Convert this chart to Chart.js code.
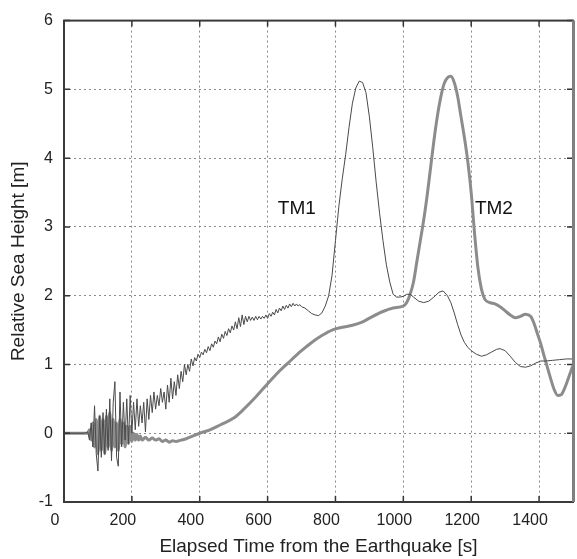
<!DOCTYPE html>
<html>
<head>
<meta charset="utf-8">
<script src="https://cdn.jsdelivr.net/npm/chart.js@4.4.1/dist/chart.umd.min.js"></script>
<style>
  html, body { margin: 0; padding: 0; background: #fff; }
  #wrap { width: 577px; height: 559px; position: relative; }
</style>
</head>
<body>
<div id="wrap"><canvas id="seaChart"></canvas></div>
<script>
// tick values
const xTicks = [0, 200, 400, 600, 800, 1000, 1200, 1400];
const yTicks = [-1, 0, 1, 2, 3, 4, 5, 6];

// TM1 (thin line) - time [s] and height [m]
const timeTM1 = [
    0, 60, 70, 75, 80, 85, 90, 95, 100, 105, 110, 115, 120, 125, 130, 135, 140, 145, 150, 155,
    160, 165, 170, 175, 180, 185, 190, 195, 200, 205, 210, 215, 220, 225, 230, 235, 240, 245, 250, 255,
    260, 265, 270, 275, 280, 285, 290, 295, 300, 305, 310, 315, 320, 325, 330, 335, 340, 345, 350, 355,
    360, 365, 370, 375, 380, 385, 390, 395, 400, 405, 410, 415, 420, 425, 430, 435, 440, 445, 450, 455,
    460, 465, 470, 475, 480, 485, 490, 495, 500, 505, 510, 515, 520, 525, 530, 535, 540, 545, 550, 555,
    560, 565, 570, 575, 580, 585, 590, 595, 600, 605, 610, 615, 620, 625, 630, 635, 640, 645, 650, 655,
    660, 665, 670, 675, 680, 685, 690, 695, 700, 710, 720, 730, 740, 750, 760, 770, 780, 790, 800, 810,
    820, 830, 840, 850, 860, 870, 880, 890, 900, 910, 920, 930, 940, 950, 960, 970, 980, 990, 1000, 1010,
    1020, 1030, 1045, 1060, 1075, 1090, 1105, 1117, 1130, 1140, 1150, 1160, 1170, 1180, 1190, 1200, 1215, 1230, 1245, 1260,
    1275, 1285, 1300, 1315, 1330, 1345, 1360, 1375, 1390, 1405, 1420, 1440, 1460, 1480, 1500
];
const heightTM1 = [
    0, 0, 0.02, -0.1, 0.15, -0.2, 0.4, -0.3, -0.55, 0.25, -0.35, 0.3, -0.3, 0.35, -0.25, 0.5, -0.4, 0.45, 0.75, -0.35,
    -0.48, 0.6, -0.2, 0.45, -0.1, 0.5, -0.15, 0.55, 0.0, 0.45, 0.05, 0.5, 0.1, 0.4, 0.15, 0.45, 0.02, 0.5, 0.2, 0.55,
    0.3, 0.6, 0.35, 0.55, 0.4, 0.65, 0.45, 0.6, 0.35, 0.7, 0.45, 0.8, 0.5, 0.75, 0.55, 0.85, 0.65, 0.9, 0.75, 1.0,
    0.85, 1.0, 0.9, 1.08, 0.98, 1.1, 1.05, 1.15, 1.1, 1.18, 1.14, 1.22, 1.17, 1.26, 1.2, 1.3, 1.25, 1.34, 1.3, 1.4,
    1.33, 1.44, 1.38, 1.48, 1.42, 1.52, 1.46, 1.56, 1.5, 1.62, 1.52, 1.68, 1.55, 1.72, 1.58, 1.7, 1.62, 1.7, 1.64, 1.69,
    1.64, 1.7, 1.65, 1.7, 1.66, 1.7, 1.67, 1.72, 1.67, 1.74, 1.7, 1.76, 1.72, 1.8, 1.75, 1.82, 1.78, 1.85, 1.8, 1.86,
    1.82, 1.88, 1.84, 1.89, 1.85, 1.88, 1.85, 1.87, 1.84, 1.82, 1.78, 1.74, 1.72, 1.71, 1.75, 1.85, 2.0, 2.3, 2.8, 3.3,
    3.7, 4.05, 4.45, 4.8, 5.02, 5.12, 5.1, 4.95, 4.6, 4.15, 3.65, 3.2, 2.8, 2.45, 2.2, 2.02, 1.98, 1.98, 1.99, 2.02,
    2.02, 1.98, 1.92, 1.9, 1.92, 1.98, 2.05, 2.07, 2.0, 1.9, 1.75, 1.58, 1.43, 1.32, 1.25, 1.2, 1.15, 1.12, 1.14, 1.18,
    1.22, 1.23, 1.2, 1.12, 1.03, 0.97, 0.96, 0.98, 1.02, 1.05, 1.05, 1.06, 1.07, 1.08, 1.08
];

// TM2 (thick gray line)
const timeTM2 = [
    0, 70, 75, 80, 85, 90, 95, 100, 105, 110, 115, 120, 125, 130, 135, 140, 145, 150, 155, 160,
    165, 170, 175, 180, 185, 190, 195, 200, 205, 210, 215, 220, 225, 230, 240, 250, 260, 270, 280, 290,
    300, 310, 320, 330, 345, 360, 380, 400, 430, 460, 500, 530, 560, 600, 630, 660, 700, 730, 760, 790,
    820, 850, 880, 910, 940, 970, 1000, 1010, 1020, 1030, 1040, 1050, 1060, 1070, 1080, 1090, 1100, 1110, 1120, 1130,
    1140, 1150, 1160, 1170, 1180, 1190, 1200, 1210, 1220, 1230, 1240, 1255, 1270, 1285, 1300, 1315, 1330, 1345, 1360, 1375,
    1385, 1395, 1405, 1415, 1425, 1435, 1445, 1455, 1465, 1475, 1485, 1495, 1500
];
const heightTM2 = [
    0, 0, 0.05, -0.1, 0.15, -0.2, 0.2, -0.3, 0.25, -0.25, 0.2, -0.3, 0.25, -0.2, 0.3, -0.25, 0.2, -0.2, 0.15, -0.25,
    0.2, -0.15, 0.15, -0.2, 0.1, -0.15, 0.1, -0.12, 0.0, -0.1, -0.02, -0.1, -0.04, -0.1, -0.06, -0.1, -0.07, -0.1, -0.08, -0.12,
    -0.1, -0.13, -0.11, -0.12, -0.1, -0.08, -0.04, 0.0, 0.05, 0.12, 0.22, 0.35, 0.5, 0.72, 0.88, 1.02, 1.2, 1.32, 1.42, 1.5,
    1.54, 1.57, 1.62, 1.7, 1.77, 1.82, 1.85, 1.9, 2.02, 2.2, 2.5, 2.8, 3.1, 3.45, 3.85, 4.25, 4.6, 4.88, 5.08, 5.17,
    5.19, 5.1, 4.9, 4.6, 4.3, 3.95, 3.5, 2.9, 2.4, 2.1, 1.95, 1.9, 1.88, 1.84, 1.78, 1.72, 1.68, 1.7, 1.73, 1.7,
    1.6, 1.45, 1.3, 1.12, 0.95, 0.78, 0.63, 0.55, 0.56, 0.65, 0.78, 0.92, 0.98
];

// curve labels, placed in data coordinates
const curveLabels = [
    { text: 'TM1', x: 630, y: 3.27 },
    { text: 'TM2', x: 1211, y: 3.27 }
];

const toPoints = (xs, ys) => xs.map((x, i) => ({ x: x, y: ys[i] }));

const FONT = '"Liberation Sans", Arial, Helvetica, sans-serif';

// frame, inner ticks and curve labels
const framePlugin = {
    id: 'frame',
    afterDatasetsDraw(chart) {
        const { ctx, chartArea: a, scales } = chart;
        ctx.save();
        // inward tick marks on all four sides
        ctx.strokeStyle = '#333';
        ctx.lineWidth = 1.5;
        ctx.beginPath();
        xTicks.forEach(v => {
            const px = scales.x.getPixelForValue(v);
            ctx.moveTo(px, a.bottom); ctx.lineTo(px, a.bottom - 6);
            ctx.moveTo(px, a.top); ctx.lineTo(px, a.top + 6);
        });
        yTicks.forEach(v => {
            const py = scales.y.getPixelForValue(v);
            ctx.moveTo(a.left, py); ctx.lineTo(a.left + 6, py);
            ctx.moveTo(a.right, py); ctx.lineTo(a.right - 6, py);
        });
        ctx.stroke();
        // frame
        ctx.strokeStyle = '#3a3a3a';
        ctx.lineWidth = 2;
        ctx.strokeRect(a.left, a.top, a.right - a.left, a.bottom - a.top);
        ctx.strokeStyle = '#808080';
        ctx.lineWidth = 3;
        ctx.beginPath();
        ctx.moveTo(a.right + 0.5, a.top);
        ctx.lineTo(a.right + 0.5, a.bottom);
        ctx.stroke();
        // labels
        ctx.fillStyle = '#111';
        ctx.font = '19px ' + FONT;
        ctx.textAlign = 'left';
        ctx.textBaseline = 'middle';
        curveLabels.forEach(l => {
            ctx.fillText(l.text, scales.x.getPixelForValue(l.x), scales.y.getPixelForValue(l.y));
        });
        ctx.restore();
    }
};

const ctx = document.getElementById('seaChart');
new Chart(ctx, {
    type: 'line',
    data: {
        datasets: [
            {
                label: 'TM1',
                data: toPoints(timeTM1, heightTM1),
                borderColor: '#4a4a4a',
                borderWidth: 1,
                pointRadius: 0,
                tension: 0,
                order: 1
            },
            {
                label: 'TM2',
                data: toPoints(timeTM2, heightTM2),
                borderColor: '#8c8c8c',
                borderWidth: 3,
                pointRadius: 0,
                cubicInterpolationMode: 'monotone',
                order: 2
            }
        ]
    },
    options: {
        responsive: true,
        maintainAspectRatio: false,
        animation: false,
        layout: { padding: { top: 15, right: 4, left: 0, bottom: 0 } },
        plugins: {
            legend: { display: false },
            tooltip: { enabled: false }
        },
        scales: {
            x: {
                type: 'linear',
                min: 0,
                max: 1500,
                afterBuildTicks: (axis) => { axis.ticks = xTicks.map(v => ({ value: v })); },
                afterFit: (axis) => { axis.height = 57; },
                grid: {
                    color: (c) => (c.tick && (c.tick.value === 0) ? 'rgba(0,0,0,0)' : '#8a8a8a'),
                    lineWidth: 1,
                    drawTicks: false
                },
                border: { display: false, dash: [2, 3] },
                ticks: {
                    padding: 9,
                    labelOffset: -9,
                    color: '#222',
                    maxRotation: 0,
                    font: { family: FONT, size: 16 },
                    callback: (v) => String(v)
                },
                title: {
                    display: true,
                    text: 'Elapsed Time from the Earthquake [s]',
                    color: '#222',
                    padding: { top: 0, bottom: 1 },
                    font: { family: FONT, size: 19 }
                }
            },
            y: {
                type: 'linear',
                min: -1,
                max: 6,
                afterBuildTicks: (axis) => { axis.ticks = yTicks.map(v => ({ value: v })); },
                afterFit: (axis) => { axis.width = 64; },
                grid: {
                    color: (c) => (c.tick && (c.tick.value === -1 || c.tick.value === 6) ? 'rgba(0,0,0,0)' : '#8a8a8a'),
                    lineWidth: 1,
                    drawTicks: false
                },
                border: { display: false, dash: [2, 3] },
                ticks: {
                    padding: 11,
                    color: '#222',
                    font: { family: FONT, size: 16 },
                    callback: (v) => String(v)
                },
                title: {
                    display: true,
                    text: 'Relative Sea Height [m]',
                    color: '#222',
                    padding: { top: 7, bottom: 0 },
                    font: { family: FONT, size: 19 }
                }
            }
        }
    },
    plugins: [framePlugin]
});
</script>
</body>
</html>
